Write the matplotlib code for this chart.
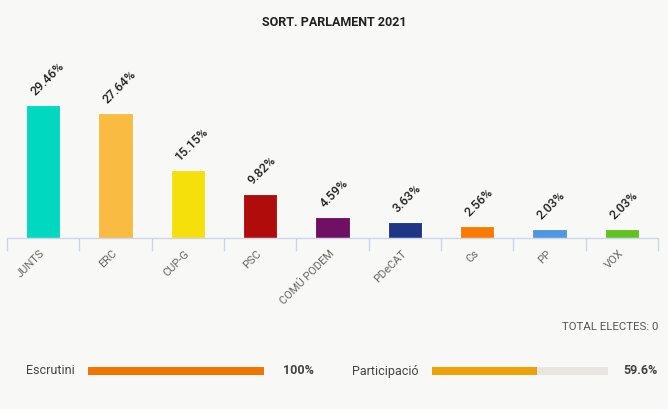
import matplotlib
matplotlib.use("Agg")
import matplotlib.pyplot as plt

plt.rcParams['font.family'] = ['Roboto', 'DejaVu Sans']

# dades
partits = ["JUNTS", "ERC", "CUP-G", "PSC", "COMÚ PODEM", "PDeCAT", "Cs", "PP", "VOX"]
vots = [29.46, 27.64, 15.15, 9.82, 4.59, 3.63, 2.56, 2.03, 2.03]
colors = ["#00d8c0", "#f9bb42", "#f6e00b", "#b10c0c", "#701063",
          "#1e3588", "#fb7b00", "#4f97e3", "#62c224"]
escrutini = 100
participacio = 59.6

W, H = 668, 409
bg = "#f8f8f7"
fig = plt.figure(figsize=(W / 100, H / 100), dpi=100, facecolor=bg)

def px(x, y):
    return x / W, 1 - y / H

# grafic principal
ax = fig.add_axes([7 / W, 1 - 238 / H, (658 - 7) / W, (238 - 40) / H])
ax.set_facecolor(bg)
xs = list(range(len(partits)))
ax.bar(xs, vots, width=0.475, color=colors, edgecolor="white", linewidth=0.8)
ax.set_xlim(-0.5, len(partits) - 0.5)
ax.set_ylim(0, 29.46 * 198 / 133)

for s in ["top", "right", "left"]:
    ax.spines[s].set_visible(False)
ax.spines["bottom"].set_color("#ccd6eb")
ax.spines["bottom"].set_linewidth(1)
ax.set_yticks([])

ax.set_xticks([x - 0.5 for x in range(len(partits) + 1)], minor=True)
ax.tick_params(axis="x", which="minor", length=9, color="#ccd6eb", width=1)
ax.set_xticks(xs)
ax.set_xticklabels(partits)
ax.tick_params(axis="x", which="major", length=0, pad=10)
for lab in ax.get_xticklabels():
    lab.set_rotation(45)
    lab.set_ha("right")
    lab.set_va("center")
    lab.set_rotation_mode("anchor")
    lab.set_fontsize(8)
    lab.set_color("#666666")

for x, v in zip(xs, vots):
    ax.annotate(f"{v:.2f}%", (x, v), xytext=(-4, 5), textcoords="offset points",
                rotation=45, rotation_mode="anchor", ha="left", va="bottom",
                fontsize=9, fontweight="medium", color="#222222")

fig.text(*px(334, 22), "SORT. PARLAMENT 2021", ha="center", va="center",
         fontsize=9, fontweight="bold", color="#222222")

fig.text(*px(658, 327), "TOTAL ELECTES: 0", ha="right", va="center",
         fontsize=8.2, color="#555555")

# barres de progres
def progres(x0, x1, valor, color):
    a = fig.add_axes([x0 / W, 1 - 374.5 / H, (x1 - x0) / W, 7.5 / H])
    a.barh([0], [100], height=1, color="#e6e5e2")
    a.barh([0], [valor], height=1, color=color)
    a.set_xlim(0, 100)
    a.set_ylim(-0.5, 0.5)
    a.axis("off")

fig.text(*px(26, 371), "Escrutini", ha="left", va="center", fontsize=9, color="#444444")
progres(88, 264, escrutini, "#f07400")
fig.text(*px(314, 371), f"{escrutini}%", ha="right", va="center", fontsize=9,
         fontweight="bold", color="#444444")

fig.text(*px(352, 371), "Participació", ha="left", va="center", fontsize=9, color="#444444")
progres(432, 608, participacio, "#eaa10a")
fig.text(*px(658, 371), f"{participacio}%", ha="right", va="center", fontsize=9,
         fontweight="bold", color="#444444")

fig.savefig("out.png", dpi=100, facecolor=bg)
